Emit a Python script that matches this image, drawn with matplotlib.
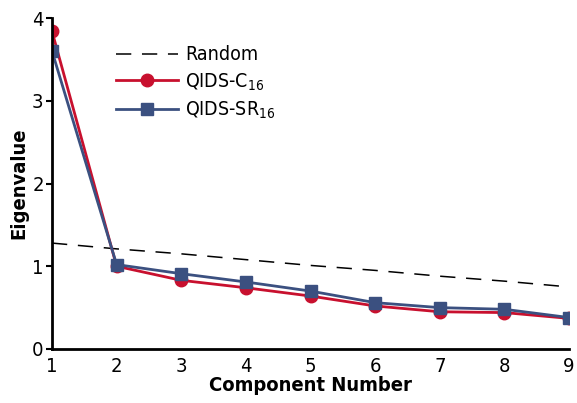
import matplotlib
matplotlib.use("Agg")
import matplotlib.pyplot as plt
from matplotlib import font_manager

# narrow face for all the text, falling back to condensed DejaVu
names = {f.name for f in font_manager.fontManager.ttflist}
fam = "Liberation Sans Narrow" if "Liberation Sans Narrow" in names else "DejaVu Sans"
plt.rcParams["font.family"] = [fam, "DejaVu Sans"]
plt.rcParams["font.stretch"] = "condensed"
plt.rcParams["mathtext.fontset"] = "custom"
plt.rcParams["mathtext.rm"] = fam + ":stretch=condensed"
plt.rcParams["mathtext.default"] = "rm"

component = [1, 2, 3, 4, 5, 6, 7, 8, 9]
random_ev = [1.28, 1.21, 1.15, 1.08, 1.01, 0.95, 0.88, 0.82, 0.75]
qids_c16 = [3.84, 1.00, 0.83, 0.74, 0.64, 0.52, 0.45, 0.44, 0.37]
qids_sr16 = [3.60, 1.02, 0.91, 0.81, 0.70, 0.56, 0.50, 0.48, 0.38]

red = "#C8102E"
blue = "#3B5080"

fig = plt.figure(figsize=(5.77, 4.03), dpi=100)
ax = fig.add_axes([52 / 577, 54 / 403, 517 / 577, 331 / 403])

ax.plot(component, random_ev, color="black", lw=1.1, dashes=(10, 7), label="Random")
ax.plot(component, qids_c16, color=red, lw=2, marker="o", ms=9, label="QIDS-C$_{16}$")
ax.plot(component, qids_sr16, color=blue, lw=2, marker="s", ms=9, label="QIDS-SR$_{16}$")

ax.set_xlim(1, 9)
ax.set_ylim(0, 4)
ax.set_xticks(component)
ax.set_yticks([0, 1, 2, 3, 4])
for s in ["top", "right"]:
    ax.spines[s].set_visible(False)
for s in ["left", "bottom"]:
    ax.spines[s].set_linewidth(2)
ax.tick_params(axis="y", length=4, width=1.5, labelsize=14.5, pad=2)
ax.tick_params(axis="x", length=0, labelsize=14.5, pad=6)
ax.set_xlabel("Component Number", fontsize=14.5, fontweight="bold", labelpad=0)
ax.set_ylabel("Eigenvalue", fontsize=14.5, fontweight="bold", labelpad=3)

ax.legend(loc="upper left", bbox_to_anchor=(0.09, 0.97), frameon=False,
          fontsize=14, handlelength=3.2, handletextpad=0.35, labelspacing=0.35)

fig.savefig("out.png", dpi=100)
